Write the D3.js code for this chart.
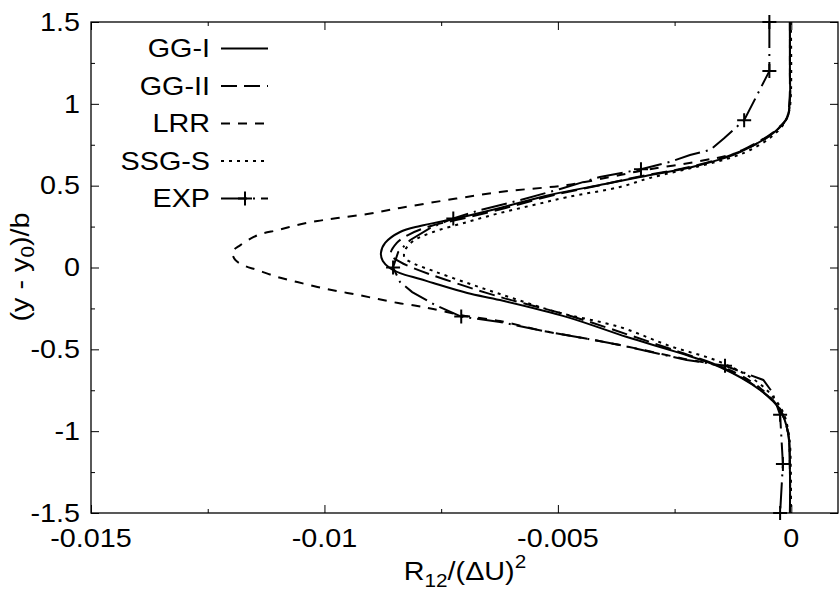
<!DOCTYPE html>
<html>
<head>
<meta charset="utf-8">
<script src="https://cdn.jsdelivr.net/npm/d3@7"></script>
<style>
  body { margin: 0; background: #fff; }
  text { font-family: "Liberation Sans", Arial, sans-serif; fill: #000; }
</style>
</head>
<body>
<svg id="chart"></svg>
<script>
const width = 839;
const height = 592;
const margin = { left: 91, right: 1, top: 22, bottom: 79 };

// axis ticks
const xTicks = [-0.015, -0.01, -0.005, 0];
const xMinor = [-0.0125, -0.0075, -0.0025];
const yTicks = [-1.5, -1, -0.5, 0, 0.5, 1, 1.5];
const yMinor = [-1.25, -0.75, -0.25, 0.25, 0.75, 1.25];

const names = ["GG-I", "GG-II", "LRR", "SSG-S", "EXP"];

// GG-I (solid)
const ggI_y = [1.5, 1.2, 1.023, 0.913, 0.84, 0.791, 0.736, 0.687, 0.626, 0.602, 0.553, 0.51, 0.443, 0.364, 0.296, 0.254, 0.217, 0.15, 0.089, 0.04, -0.003, -0.034, -0.07, -0.095, -0.156, -0.199, -0.303, -0.425, -0.523, -0.608, -0.748, -0.87, -1.01, -1.24, -1.5];
const ggI_r = [-0.00003, -0.00003, -0.00003, -0.00009, -0.00031, -0.00054, -0.00088, -0.00125, -0.00196, -0.00232, -0.00324, -0.00399, -0.00517, -0.00624, -0.00724, -0.00795, -0.00838, -0.0087, -0.00879, -0.00875, -0.0086, -0.00838, -0.00795, -0.00767, -0.00694, -0.00624, -0.0048, -0.00352, -0.00238, -0.00153, -0.00067, -0.00024, -0.00007, -0.00003, -0.00003];

// GG-II (long dash)
const ggII_y = [1.5, 1.2, 1.02, 0.913, 0.84, 0.791, 0.736, 0.687, 0.626, 0.602, 0.553, 0.51, 0.443, 0.364, 0.296, 0.254, 0.2, 0.15, 0.08, 0.034, -0.003, -0.07, -0.18, -0.29, -0.41, -0.516, -0.604, -0.748, -0.87, -1.01, -1.24, -1.5];
const ggII_r = [-0.00003, -0.00003, -0.00004, -0.0001, -0.00033, -0.00057, -0.00092, -0.0013, -0.002, -0.00238, -0.0033, -0.00398, -0.00508, -0.00612, -0.00708, -0.00772, -0.0082, -0.00845, -0.00858, -0.00838, -0.0081, -0.00745, -0.00624, -0.0048, -0.0035, -0.0024, -0.00153, -0.00066, -0.00024, -0.00007, -0.00003, -0.00003];

// LRR (short dash)
const lrr_y = [1.5, 1.2, 1.023, 0.913, 0.84, 0.791, 0.736, 0.693, 0.65, 0.59, 0.565, 0.504, 0.461, 0.364, 0.327, 0.302, 0.284, 0.26, 0.229, 0.199, 0.137, 0.095, 0.046, 0.009, -0.015, -0.058, -0.089, -0.119, -0.144, -0.168, -0.193, -0.217, -0.235, -0.254, -0.291, -0.327, -0.388, -0.431, -0.474, -0.553, -0.614, -0.736, -0.87, -1.01, -1.24, -1.5];
const lrr_r = [-0.00003, -0.00003, -0.00003, -0.00009, -0.00031, -0.00054, -0.00088, -0.00125, -0.00196, -0.00324, -0.00367, -0.0048, -0.00624, -0.00838, -0.00908, -0.00972, -0.01015, -0.01058, -0.01099, -0.01142, -0.0118, -0.01197, -0.01191, -0.0117, -0.01144, -0.01101, -0.01058, -0.01015, -0.00972, -0.00927, -0.00885, -0.00842, -0.00801, -0.00767, -0.00707, -0.00624, -0.00531, -0.00446, -0.00367, -0.00238, -0.00142, -0.00067, -0.00024, -0.00007, -0.00003, -0.00003];

// SSG-S (dotted)
const ssg_y = [1.5, 1.05, 0.95, 0.87, 0.791, 0.718, 0.675, 0.62, 0.547, 0.492, 0.43, 0.382, 0.333, 0.278, 0.217, 0.162, 0.107, 0.064, 0.034, -0.021, -0.095, -0.162, -0.229, -0.278, -0.364, -0.48, -0.577, -0.712, -0.87, -1.024, -1.24, -1.5];
const ssg_r = [-0.00001, -0.00001, -0.00005, -0.00018, -0.00046, -0.00088, -0.00125, -0.00196, -0.00303, -0.00367, -0.0048, -0.00552, -0.00624, -0.00694, -0.00767, -0.0081, -0.00827, -0.00829, -0.00816, -0.00767, -0.00694, -0.00624, -0.00552, -0.00495, -0.00367, -0.0026, -0.00153, -0.00067, -0.0002, -0.00005, -0.00001, -0.00001];

// EXP (dash-dot line with markers)
const exp_y = [1.5, 1.2, 0.9, 0.852, 0.79, 0.718, 0.687, 0.645, 0.6, 0.553, 0.48, 0.412, 0.351, 0.3, 0.241, 0.168, 0.095, 0, -0.089, -0.15, -0.229, -0.3, -0.333, -0.388, -0.431, -0.474, -0.565, -0.6, -0.687, -0.761, -0.9, -1.2, -1.5];
const exp_r = [-0.00047, -0.00047, -0.00101, -0.0012, -0.00144, -0.00174, -0.00217, -0.0026, -0.00322, -0.0041, -0.00495, -0.0058, -0.00667, -0.00724, -0.00774, -0.00816, -0.00842, -0.00853, -0.00838, -0.00812, -0.00763, -0.00707, -0.00624, -0.00531, -0.00446, -0.00367, -0.00224, -0.00142, -0.0006, -0.00041, -0.00024, -0.00018, -0.00024];
const expMark_y = [1.5, 1.2, 0.9, 0.6, 0.3, 0, -0.3, -0.6, -0.9, -1.2, -1.5];
const expMark_r = [-0.00047, -0.00047, -0.00101, -0.00322, -0.00724, -0.00853, -0.00707, -0.00142, -0.00024, -0.00018, -0.00024];

const svg = d3.select("#chart").attr("width", width).attr("height", height);
svg.append("rect").attr("width", width).attr("height", height).attr("fill", "#fff");

const xScale = d3.scaleLinear().domain([-0.015, 0.001]).range([margin.left, width - margin.right]);
const yScale = d3.scaleLinear().domain([-1.5, 1.5]).range([height - margin.bottom, margin.top]);

const stretch = 1.15;
function addText(x, y, anchor, rot) {
  return svg.append("text")
    .attr("transform", "translate(" + x + "," + y + ")" + (rot ? " rotate(" + rot + ")" : "") + " scale(" + stretch + ",1)")
    .attr("text-anchor", anchor)
    .style("font-size", "25px");
}

// ticks on all four sides, pointing inward
function ticks(axis, values, size, transform) {
  const g = svg.append("g")
    .attr("transform", transform)
    .call(axis.tickValues(values).tickSizeInner(-size).tickSizeOuter(0).tickFormat(""));
  g.select(".domain").remove();
  g.selectAll("line").attr("stroke", "#000").attr("stroke-width", 1);
}
const atBottom = "translate(0," + yScale(-1.5) + ")";
const atTop = "translate(0," + yScale(1.5) + ")";
const atLeft = "translate(" + xScale(-0.015) + ",0)";
const atRight = "translate(" + xScale(0.001) + ",0)";
ticks(d3.axisBottom(xScale), xTicks, 8, atBottom);
ticks(d3.axisBottom(xScale), xMinor, 4, atBottom);
ticks(d3.axisTop(xScale), xTicks, 8, atTop);
ticks(d3.axisTop(xScale), xMinor, 4, atTop);
ticks(d3.axisLeft(yScale), yTicks, 8, atLeft);
ticks(d3.axisLeft(yScale), yMinor, 4, atLeft);
ticks(d3.axisRight(yScale), yTicks, 8, atRight);
ticks(d3.axisRight(yScale), yMinor, 4, atRight);

svg.append("rect")
  .attr("x", xScale(-0.015)).attr("y", yScale(1.5))
  .attr("width", xScale(0.001) - xScale(-0.015))
  .attr("height", yScale(-1.5) - yScale(1.5))
  .attr("fill", "none").attr("stroke", "#000").attr("stroke-width", 1.3);

// tick labels
xTicks.forEach(function (d) {
  addText(xScale(d), 547, "middle").text(String(d));
});
yTicks.forEach(function (d) {
  addText(80, yScale(d) + 8.7, "end").text(String(d));
});

// axis titles
const xt = addText(465, 580, "middle");
xt.append("tspan").text("R");
xt.append("tspan").attr("dy", 7).style("font-size", "18px").text("12");
xt.append("tspan").attr("dy", -7).text("/(\u0394U)");
xt.append("tspan").attr("dy", -12).style("font-size", "18px").text("2");

const yt = addText(29, 267, "middle", -90);
yt.append("tspan").text("(y - y");
yt.append("tspan").attr("dy", 5).style("font-size", "18px").text("0");
yt.append("tspan").attr("dy", -5).text(")/b");

// curves
svg.append("clipPath").attr("id", "plot-clip").append("rect")
  .attr("x", xScale(-0.015)).attr("y", yScale(1.5))
  .attr("width", xScale(0.001) - xScale(-0.015))
  .attr("height", yScale(-1.5) - yScale(1.5));

const styles = {
  "GG-I": "none",
  "GG-II": "16,7",
  "LRR": "9,8",
  "SSG-S": "3,5",
  "EXP": "26,6,2,6",
};
const series = [
  { name: "GG-I", ys: ggI_y, rs: ggI_r, curve: d3.curveCatmullRom },
  { name: "GG-II", ys: ggII_y, rs: ggII_r, curve: d3.curveCatmullRom },
  { name: "LRR", ys: lrr_y, rs: lrr_r, curve: d3.curveCatmullRom },
  { name: "SSG-S", ys: ssg_y, rs: ssg_r, curve: d3.curveCatmullRom },
  { name: "EXP", ys: exp_y, rs: exp_r, curve: d3.curveLinear },
];

const plot = svg.append("g").attr("clip-path", "url(#plot-clip)");
series.forEach(function (s) {
  const pts = s.ys.map(function (y, i) { return [s.rs[i], y]; });
  const line = d3.line()
    .x(function (d) { return xScale(d[0]); })
    .y(function (d) { return yScale(d[1]); })
    .curve(s.curve);
  plot.append("path")
    .attr("d", line(pts))
    .attr("fill", "none")
    .attr("stroke", "#000")
    .attr("stroke-width", 2)
    .attr("stroke-dasharray", styles[s.name]);
});

const plus = "M-7,0H7M0,-7V7";
svg.selectAll(".mark")
  .data(expMark_y.map(function (y, i) { return [expMark_r[i], y]; }))
  .join("path")
  .attr("class", "mark")
  .attr("transform", function (d) { return "translate(" + xScale(d[0]) + "," + yScale(d[1]) + ")"; })
  .attr("d", plus)
  .attr("stroke", "#000")
  .attr("stroke-width", 2);

// legend
names.forEach(function (n, i) {
  const cy = 48.5 + 37.5 * i;
  addText(210, cy + 8.5, "end").text(n);
  svg.append("line")
    .attr("x1", 221).attr("x2", 268).attr("y1", cy).attr("y2", cy)
    .attr("stroke", "#000").attr("stroke-width", 2)
    .attr("stroke-dasharray", styles[n]);
  if (n === "EXP") {
    svg.append("path").attr("transform", "translate(245," + cy + ")")
      .attr("d", plus).attr("stroke", "#000").attr("stroke-width", 2);
  }
});
</script>
</body>
</html>
